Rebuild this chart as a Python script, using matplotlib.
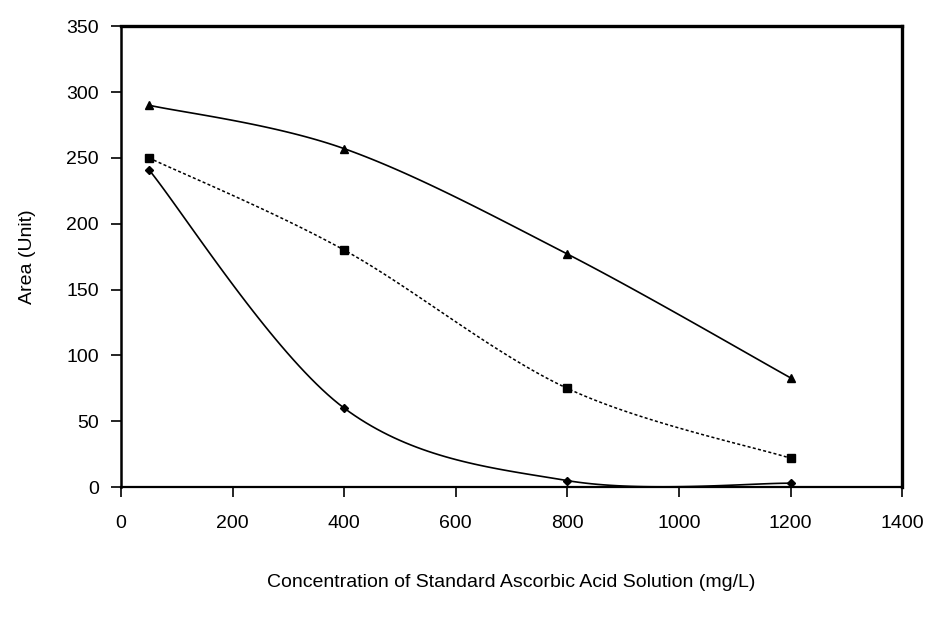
import numpy as np
import matplotlib
matplotlib.use("Agg")
import matplotlib.pyplot as plt

# concentrations (mg/L)
conc = [50, 400, 800, 1200]

# peak area series
area_triangle = [290, 257, 177, 83]
area_square = [250, 180, 75, 22]
area_diamond = [241, 60, 5, 3]

x_ticks = [0, 200, 400, 600, 800, 1000, 1200, 1400]
y_ticks = [0, 50, 100, 150, 200, 250, 300, 350]


def smooth(xs, ys, n=40):
    # Excel-like smoothed line: Catmull-Rom as cubic bezier segments
    p = np.column_stack([xs, ys]).astype(float)
    p_ext = np.vstack([p[0], p, p[-1]])
    out = []
    t = np.linspace(0, 1, n)[:, None]
    for i in range(len(p) - 1):
        p0, p1, p2, p3 = p_ext[i], p_ext[i + 1], p_ext[i + 2], p_ext[i + 3]
        c1 = p1 + (p2 - p0) / 6
        c2 = p2 - (p3 - p1) / 6
        seg = ((1 - t) ** 3) * p1 + 3 * ((1 - t) ** 2) * t * c1 + 3 * (1 - t) * t ** 2 * c2 + t ** 3 * p2
        out.append(seg if i == 0 else seg[1:])
    out = np.vstack(out)
    return out[:, 0], out[:, 1]


plt.rcParams['font.family'] = ['Liberation Sans', 'DejaVu Sans']

fig = plt.figure(figsize=(9.31, 6.23), dpi=100)
ax = fig.add_axes([0.130, 0.218, 0.839, 0.740])

# triangle series
sx, sy = smooth(conc, area_triangle)
ax.plot(sx, sy, color='black', lw=1.2)
ax.plot(conc, area_triangle, ls='none', marker='^', ms=6, color='black')

# square series (dotted line)
sx, sy = smooth(conc, area_square)
ax.plot(sx, sy, color='black', lw=1.1, ls=(0, (2, 1.5)))
ax.plot(conc, area_square, ls='none', marker='s', ms=6, color='black')

# diamond series
sx, sy = smooth(conc, area_diamond)
ax.plot(sx, sy, color='black', lw=1.2)
ax.plot(conc, area_diamond, ls='none', marker='D', ms=4.5, color='black')

ax.set_xlim(0, 1400)
ax.set_ylim(0, 350)
ax.set_xticks(x_ticks)
ax.set_yticks(y_ticks)

ax.tick_params(axis='both', direction='out', length=7, width=1.2, labelsize=14)
ax.tick_params(axis='x', pad=13)
ax.tick_params(axis='y', pad=9)

ax.spines['top'].set_linewidth(2.4)
ax.spines['right'].set_linewidth(2.4)
ax.spines['left'].set_linewidth(1.8)
ax.spines['bottom'].set_linewidth(1.6)

ax.set_xlabel('Concentration of Standard Ascorbic Acid Solution (mg/L)', fontsize=14, labelpad=30)
ax.set_ylabel('Area (Unit)', fontsize=14, labelpad=22)

fig.savefig('out.png', dpi=100)
